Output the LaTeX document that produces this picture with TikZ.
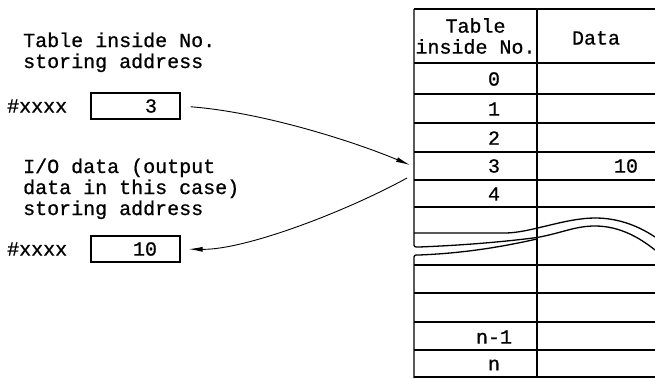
\documentclass[tikz,border=0pt]{standalone}
\usepackage{fontspec}
\setmonofont[FakeBold=0.8]{Liberation Mono}
\usetikzlibrary{arrows.meta,positioning}

\begin{document}
\begin{tikzpicture}[x=1pt, y=-1pt,
  note/.style={font=\ttfamily\fontsize{20}{21}\selectfont, align=left, inner sep=0pt},
  cellnum/.style={font=\ttfamily\fontsize{20}{21}\selectfont, inner sep=0pt},
  valbox/.style={draw, line width=1.2pt, font=\ttfamily\fontsize{20}{21}\selectfont,
    text width=43pt, inner xsep=23pt, inner ysep=0pt, minimum height=26pt, align=right},
  grid/.style={line width=1.3pt, line join=round},
  ptr/.style={-{Latex[length=14pt,width=5pt]}, line width=0.9pt}
]
  \useasboundingbox (0,0) rectangle (655,378);

  % left side
  \node[note, anchor=base west] (idxlabel) at (23,68) {Table inside No.\\storing address};
  \node[valbox] (idxbox) at (135.5,106) {3};
  \node[note, left=23pt of idxbox] (idxaddr) {\#xxxx};
  \node[note, anchor=base west] (iolabel) at (23,215) {I/O data (output\\data in this case)\\storing address};
  \node[valbox] (iobox) at (135.5,249) {10};
  \node[note, left=23pt of iobox] (ioaddr) {\#xxxx};

  % table with the break
  \draw[grid] (414,9) -- (655,9);
  \draw[grid] (414,9) -- (414,243) .. controls (414,247) .. (419,247)
    .. controls (470,245) and (510,241) .. (537,237.5)
    .. controls (562,233) and (575,226) .. (595,226)
    .. controls (620,226) and (640,238) .. (655,250);
  \draw[grid] (414,233) -- (505,233) .. controls (530,233) and (565,218) .. (595,218)
    .. controls (620,218) and (640,227) .. (655,237);
  \draw[grid] (414,378) -- (414,259) .. controls (414,255) .. (419,255)
    .. controls (470,253) and (510,245) .. (537,239);
  \draw[grid] (537,9) -- (537,378);
  \draw[grid] (414,63) -- (655,63)  (414,94) -- (655,94)  (414,123) -- (655,123)
    (414,152) -- (655,152)  (414,180) -- (655,180)  (414,207) -- (655,207);
  \draw[grid] (414,265) -- (655,265)  (414,293) -- (655,293)  (414,322) -- (655,322)
    (414,350) -- (655,350)  (414,377) -- (655,377);

  \node[note, align=center] (hidx) at (475.5,36) {Table\\inside No.};
  \node[note] (hdata) at (596,38) {Data};
  \node[cellnum] (num0) at (494,79) {0};
  \node[cellnum] (num1) at (494,109) {1};
  \node[cellnum] (num2) at (494,138) {2};
  \node[cellnum] (num3) at (494,166) {3};
  \node[cellnum] (num4) at (494,194) {4};
  \node[cellnum] (numn1) at (494,337) {n-1};
  \node[cellnum] (numn) at (494,365) {n};
  \node[cellnum] (val3) at (626,166) {10};

  % pointers
  \coordinate (rowin) at (410,165);
  \coordinate (rowout) at (407,178);
  \draw[ptr, shorten <=10pt] (idxbox.east) .. controls (260,112) and (350,140) .. (rowin);
  \draw[ptr, shorten >=8pt] (rowout) .. controls (345,212) and (245,250) .. (iobox.east);
\end{tikzpicture}
\end{document}
